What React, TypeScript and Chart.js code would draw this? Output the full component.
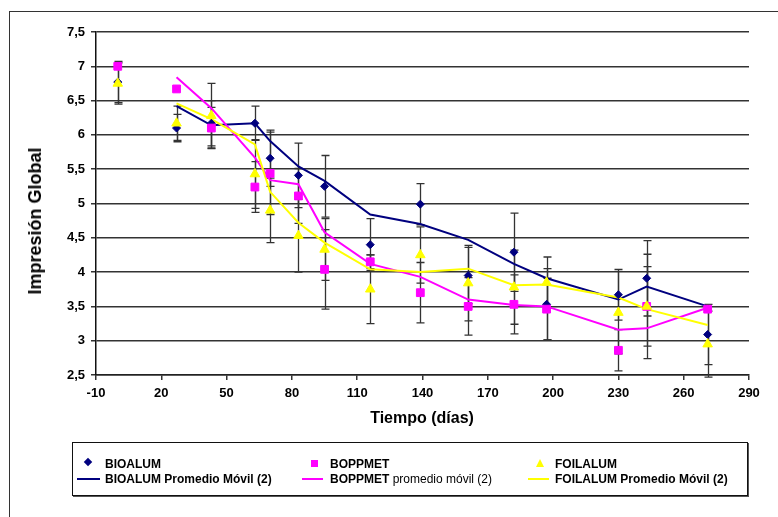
import React, { useEffect, useRef } from "react";
import Chart from "chart.js/auto";

// ---- data ----
const days = [0, 27, 43, 63, 70, 83, 95, 116, 139, 161, 182, 197, 230, 243, 271];
const bioalum = [6.77, 6.1, 6.17, 6.17, 5.66, 5.41, 5.25, 4.4, 4.99, 3.95, 4.29, 3.53, 3.67, 3.91, 3.09];
const boppmet = [7.0, 6.67, 6.1, 5.24, 5.44, 5.11, 4.04, 4.15, 3.7, 3.5, 3.53, 3.46, 2.86, 3.5, 3.46];
const foilalum = [6.75, 6.17, 6.28, 5.43, 4.9, 4.53, 4.33, 3.75, 4.25, 3.84, 3.78, 3.85, 3.41, 3.5, 2.95];

const bioErr = [0.3, 0.2, 0.33, 0.25, 0.41, 0.47, 0.45, 0.38, 0.3, 0.41, 0.57, 0.52, 0.37, 0.55, 0.44];
const boppErr = [0, 0, 0.3, 0.37, 0.6, 0.4, 0.58, 0.1, 0.44, 0.42, 0.43, 0.45, 0.3, 0.58, 0];
const foilErr = [0.3, 0.25, 0.47, 0.5, 0.47, 0.53, 0.45, 0.5, 0.41, 0.55, 0.54, 0.37, 0.6, 0.76, 0.48];

// moving-average (2) trendlines
const maDays = [27, 43, 63, 70, 83, 95, 116, 139, 161, 182, 197, 230, 243, 271];
const bioMA = [6.42, 6.14, 6.17, 5.91, 5.54, 5.33, 4.84, 4.7, 4.47, 4.12, 3.91, 3.6, 3.79, 3.5];
const boppMA = [6.84, 6.39, 5.67, 5.34, 5.28, 4.58, 4.12, 3.93, 3.6, 3.52, 3.5, 3.16, 3.18, 3.48];
const foilMA = [6.46, 6.23, 5.86, 5.17, 4.72, 4.43, 4.04, 4.0, 4.05, 3.81, 3.82, 3.63, 3.46, 3.23];

const xTicks = [-10, 20, 50, 80, 110, 140, 170, 200, 230, 260, 290];
const yTicks = [2.5, 3, 3.5, 4, 4.5, 5, 5.5, 6, 6.5, 7, 7.5];

const seriesNames = ["BIOALUM", "BOPPMET", "FOILALUM"];
const trendNames = ["BIOALUM Promedio Móvil (2)", "BOPPMET promedio móvil (2)", "FOILALUM Promedio Móvil (2)"];

const NAVY = "#00007f";
const MAGENTA = "#ff00ff";
const YELLOW = "#ffff00";
const FONT = 'Arial, "Liberation Sans", sans-serif';

const pts = (xs: number[], ys: number[]) => xs.map((x, i) => ({ x, y: ys[i] }));

export default function App() {
  const ref = useRef<HTMLCanvasElement>(null);

  useEffect(() => {
    const canvas = ref.current!;
    const errorBars = {
      id: "errorBars",
      beforeDatasetsDraw(chart: any) {
        const { ctx, scales } = chart;
        const x = scales.x;
        const y = scales.y;
        ctx.save();
        ctx.strokeStyle = "#333";
        ctx.lineWidth = 1.3;
        const groups: [number[], number[]][] = [
          [bioalum, bioErr],
          [boppmet, boppErr],
          [foilalum, foilErr],
        ];
        groups.forEach(([vals, errs]) => {
          vals.forEach((v, i) => {
            const e = errs[i];
            if (!e) return;
            const px = Math.round(x.getPixelForValue(days[i])) + 0.5;
            const t = y.getPixelForValue(v + e);
            const b = y.getPixelForValue(v - e);
            ctx.beginPath();
            ctx.moveTo(px, t);
            ctx.lineTo(px, b);
            ctx.moveTo(px - 4, t);
            ctx.lineTo(px + 4, t);
            ctx.moveTo(px - 4, b);
            ctx.lineTo(px + 4, b);
            ctx.stroke();
          });
        });
        ctx.restore();
      },
    };

    const chart = new Chart(canvas, {
      type: "scatter",
      data: {
        datasets: [
          {
            label: seriesNames[0],
            data: pts(days, bioalum),
            pointStyle: "rectRot",
            pointRadius: 4,
            backgroundColor: NAVY,
            borderColor: NAVY,
            borderWidth: 1,
            showLine: false,
            order: 3,
          },
          {
            label: seriesNames[1],
            data: pts(days, boppmet),
            pointStyle: "rect",
            pointRadius: 5.5,
            backgroundColor: MAGENTA,
            borderColor: MAGENTA,
            borderWidth: 1,
            showLine: false,
            order: 2,
          },
          {
            label: seriesNames[2],
            data: pts(days, foilalum),
            pointStyle: "triangle",
            pointRadius: 5.5,
            backgroundColor: YELLOW,
            borderColor: YELLOW,
            borderWidth: 1,
            showLine: false,
            order: 1,
          },
          {
            label: trendNames[0],
            data: pts(maDays, bioMA),
            showLine: true,
            pointRadius: 0,
            borderColor: NAVY,
            borderWidth: 2,
            order: 6,
          },
          {
            label: trendNames[1],
            data: pts(maDays, boppMA),
            showLine: true,
            pointRadius: 0,
            borderColor: MAGENTA,
            borderWidth: 2,
            order: 5,
          },
          {
            label: trendNames[2],
            data: pts(maDays, foilMA),
            showLine: true,
            pointRadius: 0,
            borderColor: YELLOW,
            borderWidth: 2,
            order: 4,
          },
        ],
      },
      options: {
        responsive: false,
        animation: false,
        devicePixelRatio: 1,
        layout: { padding: { left: 0, top: 32, right: 29, bottom: 0 } },
        plugins: { legend: { display: false }, tooltip: { enabled: false } },
        scales: {
          x: {
            type: "linear",
            min: -10,
            max: 290,
            afterBuildTicks: (s: any) => {
              s.ticks = xTicks.map((v) => ({ value: v }));
            },
            afterFit: (s: any) => {
              s.height = 142;
            },
            grid: { drawOnChartArea: false, drawTicks: true, tickLength: 5, color: "#333", lineWidth: 1.5 },
            border: { display: true, color: "#222", width: 1.5 },
            ticks: {
              color: "#000",
              font: { family: FONT, size: 13, weight: "bold" },
              padding: 6,
              maxRotation: 0,
              autoSkip: false,
              callback: (v: any) => String(v),
            },
          },
          y: {
            type: "linear",
            min: 2.5,
            max: 7.5,
            afterBuildTicks: (s: any) => {
              s.ticks = yTicks.map((v) => ({ value: v }));
            },
            afterFit: (s: any) => {
              s.width = 96;
            },
            grid: { color: "#333", lineWidth: 1.5, drawTicks: true, tickLength: 5 },
            border: { display: true, color: "#111", width: 1.5 },
            ticks: {
              color: "#000",
              font: { family: FONT, size: 13, weight: "bold" },
              padding: 6,
              autoSkip: false,
              callback: (v: any) => String(v).replace(".", ","),
            },
          },
        },
      },
      plugins: [errorBars],
    } as any);
    return () => chart.destroy();
  }, []);

  const abs = (o: any) => ({ position: "absolute" as const, ...o });
  const textStyle = { fontWeight: "bold" as const, fontSize: 12, lineHeight: "14px", whiteSpace: "nowrap" as const, color: "#000" };

  return (
    <div
      style={{
        position: "fixed",
        left: 0,
        top: 0,
        width: 778,
        height: 517,
        overflow: "hidden",
        background: "#fff",
        fontFamily: FONT,
      }}
    >
      <div style={abs({ left: 9, top: 11, width: 900, height: 700, border: "1px solid #333", boxSizing: "border-box" })} />
      <canvas ref={ref} width={778} height={517} style={abs({ left: 0, top: 0, width: 778, height: 517 })} />

      <div
        style={abs({
          left: 35,
          top: 221,
          transform: "translate(-50%, -50%) rotate(-90deg)",
          fontWeight: "bold",
          fontSize: 18,
          whiteSpace: "nowrap",
          lineHeight: "20px",
        })}
      >
        Impresión Global
      </div>
      <div
        style={abs({
          left: 422,
          top: 418,
          transform: "translate(-50%, -50%)",
          fontWeight: "bold",
          fontSize: 16,
          whiteSpace: "nowrap",
          lineHeight: "18px",
        })}
      >
        Tiempo (días)
      </div>

      {/* legend */}
      <div
        style={abs({
          left: 72,
          top: 442,
          width: 676,
          height: 54,
          border: "1.5px solid #111",
          boxShadow: "1px 1px 0 #555",
          boxSizing: "border-box",
        })}
      />
      <div style={abs({ left: 85, top: 459, width: 6, height: 6, background: NAVY, transform: "rotate(45deg)" })} />
      <div style={abs({ left: 310.5, top: 459.5, width: 7.5, height: 7.5, background: MAGENTA })} />
      <div
        style={abs({
          left: 535.5,
          top: 459,
          width: 0,
          height: 0,
          borderLeft: "4.5px solid transparent",
          borderRight: "4.5px solid transparent",
          borderBottom: "8px solid " + YELLOW,
        })}
      />
      <div style={abs({ ...textStyle, left: 105, top: 457 })}>{seriesNames[0]}</div>
      <div style={abs({ ...textStyle, left: 330, top: 457 })}>{seriesNames[1]}</div>
      <div style={abs({ ...textStyle, left: 555, top: 457 })}>{seriesNames[2]}</div>

      <div style={abs({ left: 77, top: 478, width: 23, height: 2, background: NAVY })} />
      <div style={abs({ left: 302, top: 478, width: 21, height: 2, background: MAGENTA })} />
      <div style={abs({ left: 528, top: 478, width: 21, height: 2, background: YELLOW })} />
      <div style={abs({ ...textStyle, left: 105, top: 472 })}>{trendNames[0]}</div>
      <div style={abs({ ...textStyle, left: 330, top: 472 })}>
        BOPPMET <span style={{ fontWeight: "normal" }}>promedio móvil (2)</span>
      </div>
      <div style={abs({ ...textStyle, left: 555, top: 472 })}>{trendNames[2]}</div>
    </div>
  );
}
